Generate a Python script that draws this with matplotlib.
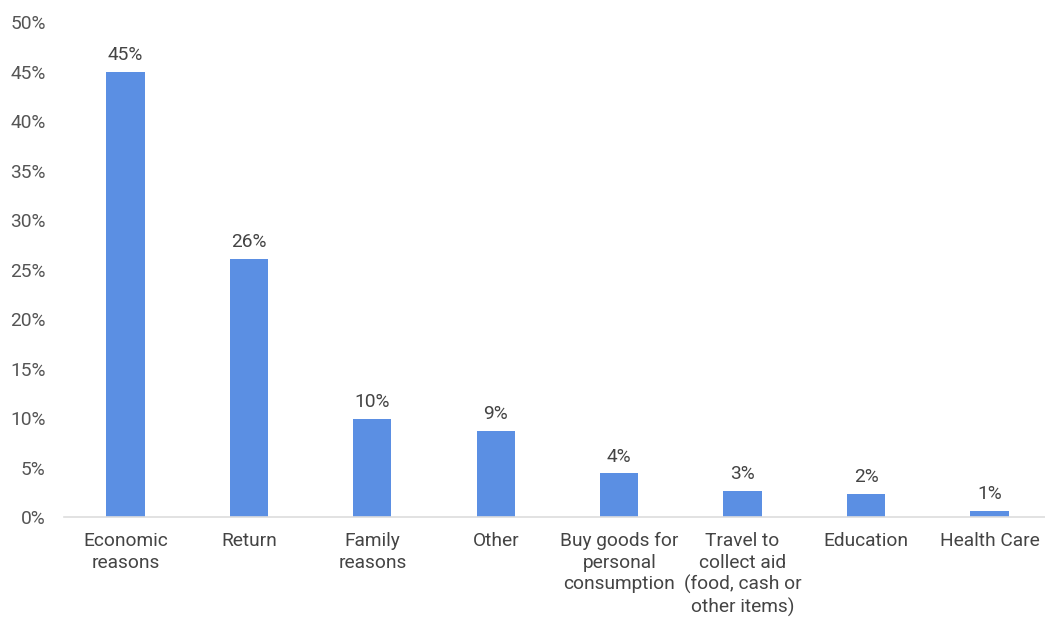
import matplotlib.pyplot as plt
import numpy as np

plt.rcParams['font.family'] = ['Roboto', 'DejaVu Sans']

# data
categories = ['Economic\nreasons', 'Return', 'Family\nreasons', 'Other',
              'Buy goods for\npersonal\nconsumption',
              'Travel to\ncollect aid\n(food, cash or\nother items)',
              'Education', 'Health Care']
values = [45.0, 26.1, 9.9, 8.7, 4.4, 2.6, 2.3, 0.6]
labels = ['45%', '26%', '10%', '9%', '4%', '3%', '2%', '1%']
yticks = [0, 5, 10, 15, 20, 25, 30, 35, 40, 45, 50]

fig = plt.figure(figsize=(10.45, 6.18), dpi=100)
ax = fig.add_axes([0.061, 0.1634, 0.939, 0.801])

x = np.arange(len(categories))
bars = ax.bar(x, values, width=0.31, color='#5B8FE3', zorder=2)

for xi, v, lab in zip(x, values, labels):
    ax.text(xi, v + 0.8, lab, ha='center', va='bottom', fontsize=13.8, color='#444444')

ax.set_xlim(-0.5, 7.45)
ax.set_ylim(0, 50)
ax.set_yticks(yticks)
ax.set_yticklabels([f'{t}%' for t in yticks], fontsize=13.8, color='#555555')
ax.set_xticks(x)
ax.set_xticklabels(categories, fontsize=13.8, color='#444444', linespacing=1.24)
ax.tick_params(axis='both', length=0)
ax.tick_params(axis='x', pad=11)
ax.tick_params(axis='y', pad=13)

for s in ['top', 'right', 'left']:
    ax.spines[s].set_visible(False)
ax.spines['bottom'].set_color('#dddddd')
ax.spines['bottom'].set_linewidth(1.2)

fig.savefig('out.png', dpi=100)
